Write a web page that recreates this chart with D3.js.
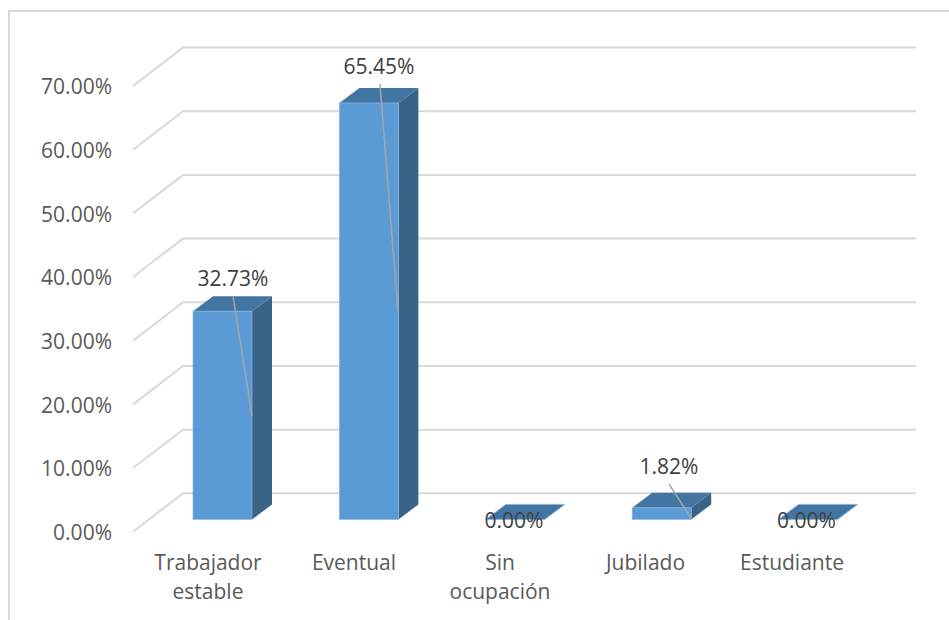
<!DOCTYPE html>
<html>
<head>
<meta charset="utf-8">
<script src="https://cdnjs.cloudflare.com/ajax/libs/d3/7.8.5/d3.min.js"></script>
<style>
html,body{margin:0;padding:0;background:#fff}
svg{display:block}
text{font-family:"Open Sans",Lato,sans-serif}
</style>
</head>
<body>
<script>
// Occupation shares drawn as a 3D column chart
const categories = [["Trabajador","estable"],["Eventual"],["Sin","ocupación"],["Jubilado"],["Estudiante"]];
const values = [32.73, 65.45, 0, 1.82, 0];
const valueLabels = ["32.73%","65.45%","0.00%","1.82%","0.00%"];
const tickValues = [0,10,20,30,40,50,60,70];

const W = 949, H = 620;
const svg = d3.select("body").append("svg").attr("width",W).attr("height",H);

// Chart frame, open past the right and bottom edges
svg.append("rect").attr("x",9).attr("y",11).attr("width",W+20).attr("height",H+20)
  .attr("fill","#fff").attr("stroke","#d9d9d9").attr("stroke-width",2);

const x = d3.scaleBand().domain(d3.range(categories.length)).range([149.3,881.3])
  .paddingInner(0.597).paddingOuter(0.2985);
const yFront = d3.scaleLinear().domain([0,70]).range([531.7,86]);   // front edge of the floor
const yBar = d3.scaleLinear().domain([0,70]).range([519.4,74]);     // plane of the column faces
const depthWall = {dx:50, dy:-38.4};
const depthBar = {dx:20, dy:-15};

// Gridlines run across the back wall and fold down the side wall
const grid = svg.append("g");
tickValues.forEach(t=>{
  const y0 = yFront(t);
  grid.append("path")
    .attr("d",`M133,${y0}L${133+depthWall.dx},${y0+depthWall.dy}H916`)
    .attr("fill","none").attr("stroke","#d9d9d9").attr("stroke-width",2);
});

// Axis labels
svg.append("g").selectAll("text").data(tickValues).join("text")
  .attr("x",112).attr("y",d=>yFront(d)+1).attr("dy","0.35em").attr("text-anchor","end")
  .attr("font-size",21).attr("fill","#595959").text(d=>d3.format(".2f")(d)+"%");

// Columns: side, top, front
const bars = svg.append("g");
values.forEach((v,i)=>{
  const l = x(i), r = l + x.bandwidth(), t = yBar(v), b = yBar(0);
  const dx = depthBar.dx, dy = depthBar.dy;
  bars.append("path").attr("d",`M${r},${t}L${r+dx},${t+dy}V${b+dy}L${r},${b}Z`).attr("fill","#396387");
  bars.append("path").attr("d",`M${l},${t}L${l+dx},${t+dy}H${r+dx}L${r},${t}Z`).attr("fill","#4375a2")
    .attr("stroke","#8fb4d8").attr("stroke-width",v===0?1:0);
  if(v>0) bars.append("rect").attr("x",l).attr("y",t).attr("width",x.bandwidth()).attr("height",b-t)
    .attr("fill","#5b9bd5").attr("stroke","#8ab6e0").attr("stroke-width",0.7);
});

// Leader lines from the value labels to the column edges
const leaders = [[233,296,252,416],[380,84,398,312],null,[669,484,691,518],null];
const leaderG = svg.append("g");
leaders.forEach(d=>{
  if(d) leaderG.append("line").attr("x1",d[0]).attr("y1",d[1]).attr("x2",d[2]).attr("y2",d[3])
    .attr("stroke","#a6a6a6").attr("stroke-width",1.5);
});

// Value labels
const labelPos = [[233,279],[379,67],[514,521],[669,467],[806.5,521]];
svg.append("g").selectAll("text").data(valueLabels).join("text")
  .attr("x",(d,i)=>labelPos[i][0]).attr("y",(d,i)=>labelPos[i][1]).attr("dy","0.35em")
  .attr("text-anchor","middle").attr("font-size",21).attr("fill","#404040").text(d=>d);

// Category labels, wrapped over two lines where needed
const catCenters = [208,354,500,645.5,792];
const cat = svg.append("g");
categories.forEach((lines,i)=>{
  lines.forEach((s,j)=>{
    cat.append("text").attr("x",catCenters[i]).attr("y",563+j*29).attr("dy","0.35em")
      .attr("text-anchor","middle").attr("font-size",21).attr("fill","#595959").text(s);
  });
});
</script>
</body>
</html>
